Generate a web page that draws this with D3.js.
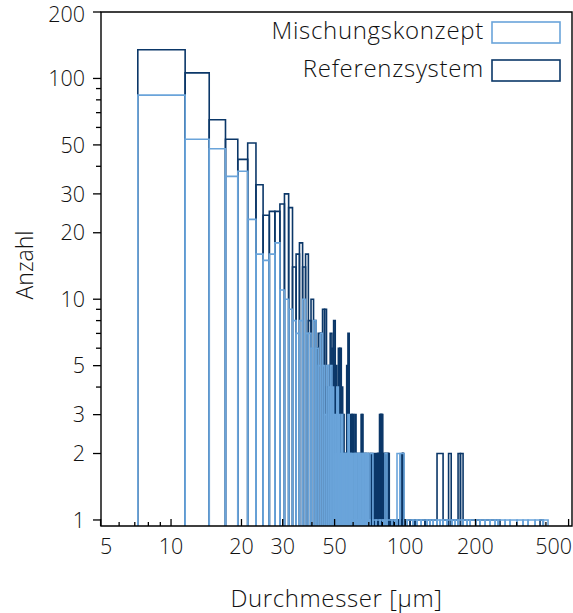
<!DOCTYPE html>
<html>
<head>
<meta charset="utf-8">
<script src="https://cdn.jsdelivr.net/npm/d3@7"></script>
<style>
  body { margin: 0; background: #fff; }
  text { font-family: "Open Sans", "DejaVu Sans", sans-serif; font-weight: 300; fill: #111; }
</style>
</head>
<body>
<svg id="chart" width="573" height="613"></svg>
<script>
// Equal-area diameter bins (µm) for the main part of the distribution
const binEdges = [
  7.211, 11.489, 14.560, 17.088, 19.287, 21.260, 23.065, 24.739, 26.306, 27.785,
  29.189, 30.529, 31.812, 33.045, 34.234, 35.384, 36.497, 37.577, 38.626, 39.648,
  40.645, 41.617, 42.568, 43.497, 44.407, 45.299, 46.174, 47.032, 47.875, 48.703,
  49.518, 50.319, 51.108, 51.884, 52.650, 53.404, 54.148, 54.882, 55.606, 56.321,
  57.026, 57.724, 58.412, 59.093, 59.766, 60.432, 61.090, 61.741, 62.386, 63.024,
  63.655, 64.281, 64.900, 65.513, 66.121, 66.723, 67.320, 67.912, 68.498, 69.080,
  69.656, 70.228, 70.796
];

// Counts per bin — Mischungskonzept
const mischCounts = [
  84, 53, 48, 36, 38, 23, 16, 15, 16, 18,
  11, 10, 9, 8, 7, 8, 10, 7, 7, 6,
  8, 6, 5, 7, 5, 3, 5, 4, 5, 4,
  3, 2, 4, 3, 2, 3, 2, 2, 2, 2,
  3, 2, 2, 2, 1, 2, 2, 2, 1, 2,
  2, 2, 1, 2, 2, 1, 2, 2, 1, 2,
  1, 1
];

// Counts per bin — Referenzsystem
const refCounts = [
  135, 106, 65, 53, 43, 51, 33, 24, 25, 25,
  27, 30, 26, 14, 16, 18, 14, 16, 8, 10,
  8, 6, 7, 7, 9, 9, 4, 5, 7, 6,
  8, 5, 3, 6, 6, 4, 3, 2, 2, 5,
  7, 2, 3, 3, 3, 2, 3, 2, 2, 1,
  2, 2, 3, 3, 2, 1, 2, 2, 1, 2,
  1, 2
];

// Sparse tail of large particles, Mischungskonzept: bin edges (µm) and counts
const mischTailEdges = [
  70.8, 72.9, 75.2, 78.2, 80.5, 82.1, 83.7, 88.0, 90.6, 92.4,
  95.2, 99.0, 102.0, 108.2, 112.5, 117.1, 124.2, 127.9, 131.8, 137.0,
  141.1, 145.4, 151.2, 158.8, 163.6, 168.5, 177.0, 184.1, 189.6, 201.1,
  209.2, 219.8, 230.8, 242.4, 249.7, 267.6, 281.0, 301.0, 319.3, 335.5,
  359.4, 388.9, 408.4
];
const mischTailCounts = [
  2, 1, 1, 1, 1, 2, 1, 1, 1, 2,
  2, 1, 1, 1, 1, 1, 1, 1, 1, 1,
  1, 1, 1, 1, 1, 1, 1, 1, 1, 1,
  1, 1, 1, 1, 1, 1, 1, 1, 1, 1,
  1, 1
];

// Referenzsystem continues on equal-area bins up to ~100 µm (0 = empty bin)
const refFineEdges = [
  70.796, 71.358, 71.917, 72.471, 73.021, 73.566, 74.108, 74.646, 75.180, 75.710,
  76.237, 76.759, 77.279, 77.795, 78.307, 78.817, 79.322, 79.825, 80.324, 80.821,
  81.314, 81.805, 82.292, 82.777, 83.259, 83.738, 84.214, 84.688, 85.159, 85.627,
  86.093, 86.556, 87.017, 87.476, 87.932, 88.385, 88.837, 89.286, 89.733, 90.178,
  90.620, 91.060, 91.499, 91.935, 92.369, 92.801, 93.231, 93.659, 94.085, 94.509,
  94.932, 95.352, 95.771, 96.187, 96.602, 97.015, 97.427, 97.837, 98.245, 98.651,
  99.056, 99.459, 99.860, 100.259
];
const refFineCounts = [
  1, 2, 1, 2, 0, 1, 2, 1, 1,
  2, 2, 2, 2,
  3, 3, 3, 3, 3,
  2, 2, 1, 2, 2, 2, 1, 2, 2, 2, 2, 1,
  1, 0, 1, 1, 0, 1, 0, 0, 1, 1, 0, 1, 1, 0, 1, 0, 1, 1, 0, 1, 0, 1, 0, 1, 1,
  2, 2, 2, 2,
  1, 0, 1, 0
];

// Sparse tail of large particles, Referenzsystem
const refTailEdges = [
  100.259, 105.1, 110.3, 121.7, 127.9, 137.0, 145.4, 153.5, 157.5, 168.5,
  172.5, 177.0, 209.2, 254.7, 377.5, 390.0
];
const refTailCounts = [
  1, 1, 1, 1, 1, 2, 1, 2, 1, 2,
  2, 1, 1, 0, 1
];

// Axis ticks
const xTickLabels = [5, 10, 20, 30, 50, 100, 200, 500];
const xMinorTicks = [6, 7, 8, 9, 40, 60, 70, 80, 90, 300, 400];
const yTickLabels = [1, 2, 3, 5, 10, 20, 30, 50, 100, 200];
const yMinorTicks = [4, 6, 7, 8, 9, 40, 60, 70, 80, 90];

const seriesNames = ["Mischungskonzept", "Referenzsystem"];
const colMisch = "#6aa4da";
const colRef = "#0b3768";

const svg = d3.select("#chart");
const plot = { left: 101, right: 572, top: 12, bottom: 526 };

const x = d3.scaleLog().domain([5.02, 517]).range([plot.left, plot.right]);
const y = d3.scaleLog().domain([0.939, 200]).range([plot.bottom, plot.top]);

svg.append("clipPath").attr("id", "plotClip")
  .append("rect")
  .attr("x", plot.left).attr("y", plot.top)
  .attr("width", plot.right - plot.left).attr("height", plot.bottom - plot.top);

function toBins(edges, counts) {
  const bins = [];
  counts.forEach((c, i) => {
    if (c > 0) bins.push({ x0: edges[i], x1: edges[i + 1], n: c });
  });
  return bins;
}

function drawSeries(bins, color, cls) {
  svg.append("g").attr("clip-path", "url(#plotClip)")
    .selectAll("path." + cls)
    .data(bins)
    .join("path")
    .attr("class", cls)
    .attr("d", b => {
      const x0 = x(b.x0), x1 = x(b.x1), yt = y(b.n), yb = plot.bottom;
      return `M${x0},${yb}V${yt}H${x1}V${yb}`;
    })
    .attr("fill", "none")
    .attr("stroke", color)
    .attr("stroke-width", 1.6)
    .attr("stroke-linejoin", "miter");
}

const refBins = toBins(binEdges, refCounts)
  .concat(toBins(refFineEdges, refFineCounts))
  .concat(toBins(refTailEdges, refTailCounts));
const mischBins = toBins(binEdges, mischCounts)
  .concat(toBins(mischTailEdges, mischTailCounts));

drawSeries(refBins, colRef, "ref");
drawSeries(mischBins, colMisch, "misch");

// Frame
const frame = svg.append("g").attr("stroke", "#000").attr("stroke-width", 1.4).attr("fill", "none");
frame.append("path").attr("d", `M${plot.left},${plot.top}H${plot.right}V${plot.bottom}H${plot.left}Z`);

// Y axis ticks (outward)
const yAxis = svg.append("g");
yAxis.selectAll("line.ymaj").data(yTickLabels).join("line")
  .attr("x1", plot.left - 8).attr("x2", plot.left)
  .attr("y1", d => y(d)).attr("y2", d => y(d))
  .attr("stroke", "#000").attr("stroke-width", 1.3);
yAxis.selectAll("line.ymin").data(yMinorTicks).join("line")
  .attr("x1", plot.left - 5).attr("x2", plot.left)
  .attr("y1", d => y(d)).attr("y2", d => y(d))
  .attr("stroke", "#000").attr("stroke-width", 1.3);
yAxis.selectAll("text").data(yTickLabels).join("text")
  .attr("x", plot.left - 16)
  .attr("y", d => Math.max(y(d), 14))
  .attr("dy", "0.36em")
  .attr("text-anchor", "end")
  .attr("font-size", 21.5)
  .text(d => d);

// X axis ticks (inward)
const xAxis = svg.append("g");
xAxis.selectAll("line.xmaj").data(xTickLabels).join("line")
  .attr("x1", d => x(d)).attr("x2", d => x(d))
  .attr("y1", plot.bottom).attr("y2", plot.bottom - 7)
  .attr("stroke", "#000").attr("stroke-width", 1.3);
xAxis.selectAll("line.xmin").data(xMinorTicks).join("line")
  .attr("x1", d => x(d)).attr("x2", d => x(d))
  .attr("y1", plot.bottom).attr("y2", plot.bottom - 4)
  .attr("stroke", "#000").attr("stroke-width", 1.3);
xAxis.selectAll("text").data(xTickLabels).join("text")
  .attr("y", 554)
  .attr("text-anchor", "middle")
  .attr("font-size", 21.5)
  .text(d => d)
  .each(function (d) {
    // keep edge labels inside the plot width
    const w = this.getComputedTextLength();
    const cx = Math.max(plot.left + w / 2 - 1, Math.min(plot.right - w / 2, x(d)));
    d3.select(this).attr("x", cx);
  });

// Axis titles
svg.append("text")
  .attr("x", (plot.left + plot.right) / 2)
  .attr("y", 607)
  .attr("text-anchor", "middle")
  .attr("font-size", 24)
  .attr("letter-spacing", 0.6)
  .text("Durchmesser [µm]");

svg.append("text")
  .attr("transform", `translate(33,${(plot.top + plot.bottom) / 2 - 4}) rotate(-90)`)
  .attr("text-anchor", "middle")
  .attr("font-size", 23)
  .text("Anzahl");

// Legend
const legend = svg.append("g");
const legendRows = [
  { name: seriesNames[0], color: colMisch, y: 22 },
  { name: seriesNames[1], color: colRef, y: 60 }
];
legendRows.forEach(r => {
  legend.append("rect")
    .attr("x", 492).attr("y", r.y).attr("width", 68).attr("height", 21)
    .attr("fill", "#fff").attr("stroke", r.color).attr("stroke-width", 1.6);
  legend.append("text")
    .attr("x", 484).attr("y", r.y + 17)
    .attr("text-anchor", "end")
    .attr("font-size", 24)
    .attr("letter-spacing", 0.7)
    .text(r.name);
});
</script>
</body>
</html>
